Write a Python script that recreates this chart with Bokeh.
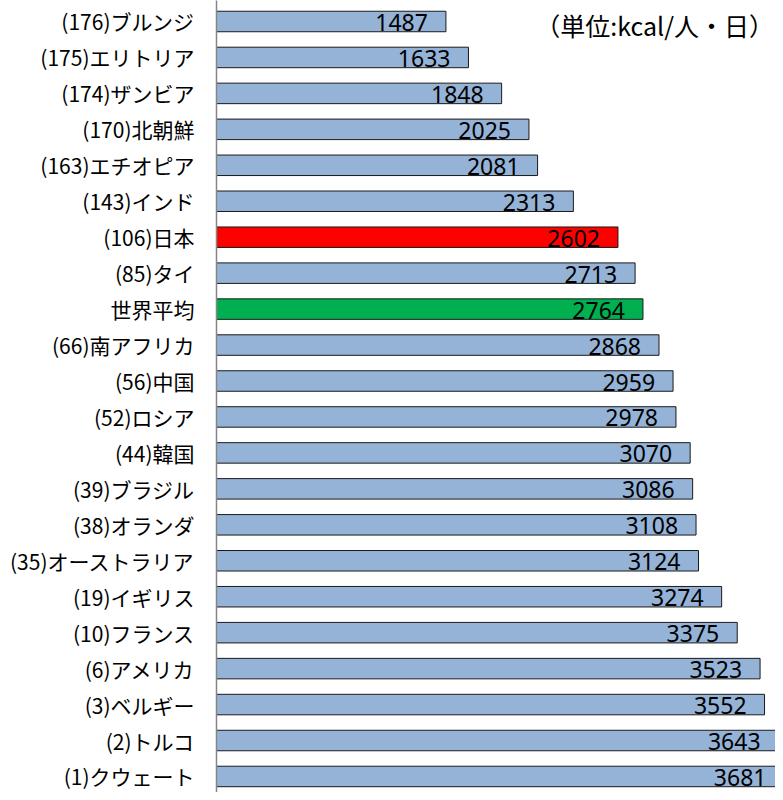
from bokeh.plotting import figure
from bokeh.models import Range1d, FixedTicker, ColumnDataSource, Label
from bokeh.core.properties import value
from bokeh.embed import file_html
from bokeh.resources import INLINE

countries = ["(176)ブルンジ", "(175)エリトリア", "(174)ザンビア", "(170)北朝鮮", "(163)エチオピア",
             "(143)インド", "(106)日本", "(85)タイ", "世界平均", "(66)南アフリカ", "(56)中国",
             "(52)ロシア", "(44)韓国", "(39)ブラジル", "(38)オランダ", "(35)オーストラリア",
             "(19)イギリス", "(10)フランス", "(6)アメリカ", "(3)ベルギー", "(2)トルコ", "(1)クウェート"]
kcal = [1487, 1633, 1848, 2025, 2081, 2313, 2602, 2713, 2764, 2868, 2959,
        2978, 3070, 3086, 3108, 3124, 3274, 3375, 3523, 3552, 3643, 3681]
unit_label = "（単位:kcal/人・日）"

n = len(countries)
ypos = [n - 1 - i for i in range(n)]
colors = []
for c in countries:
    if c == "(106)日本":
        colors.append("#FF0000")
    elif c == "世界平均":
        colors.append("#00B050")
    else:
        colors.append("#95B3D7")

src = ColumnDataSource(dict(y=ypos, v=kcal, c=colors, t=[str(v) for v in kcal]))

p = figure(output_backend="svg", toolbar_location=None,
           frame_width=559, frame_height=792,
           x_range=Range1d(0, 3623), y_range=Range1d(-0.446, n - 1 + 0.584),
           x_axis_location=None, min_border_left=216, min_border_right=0,
           min_border_top=0, min_border_bottom=0)
p.outline_line_color = None
p.xgrid.visible = False
p.ygrid.visible = False
p.background_fill_color = "white"

p.hbar(y="y", left=0, right="v", height=0.57, fill_color="c", line_color="#1a1a1a",
       line_width=1, source=src)
p.text(x="v", y="y", text="t", source=src, text_align="right", text_baseline="alphabetic",
       x_offset=-18, y_offset=1, text_font=value("Noto Sans"), text_font_size="23px",
       text_color="black")

ax = p.yaxis[0]
ax.ticker = FixedTicker(ticks=ypos)
ax.major_label_overrides = {y: c for y, c in zip(ypos, countries)}
ax.major_tick_line_color = None
ax.minor_tick_line_color = None
ax.axis_line_color = "#868686"
ax.axis_line_width = 1.5
ax.major_label_standoff = 16
ax.major_label_text_font = "Noto Sans CJK JP"
ax.major_label_text_font_size = "21px"
ax.major_label_text_color = "black"

lab = Label(x=3555, y=n - 1, text=unit_label, text_align="right", text_baseline="middle",
            x_offset=9, y_offset=-4, text_font="Noto Sans CJK JP", text_font_size="25px",
            text_color="black")
p.add_layout(lab)

open("out.html", "w").write(file_html(p, INLINE))
